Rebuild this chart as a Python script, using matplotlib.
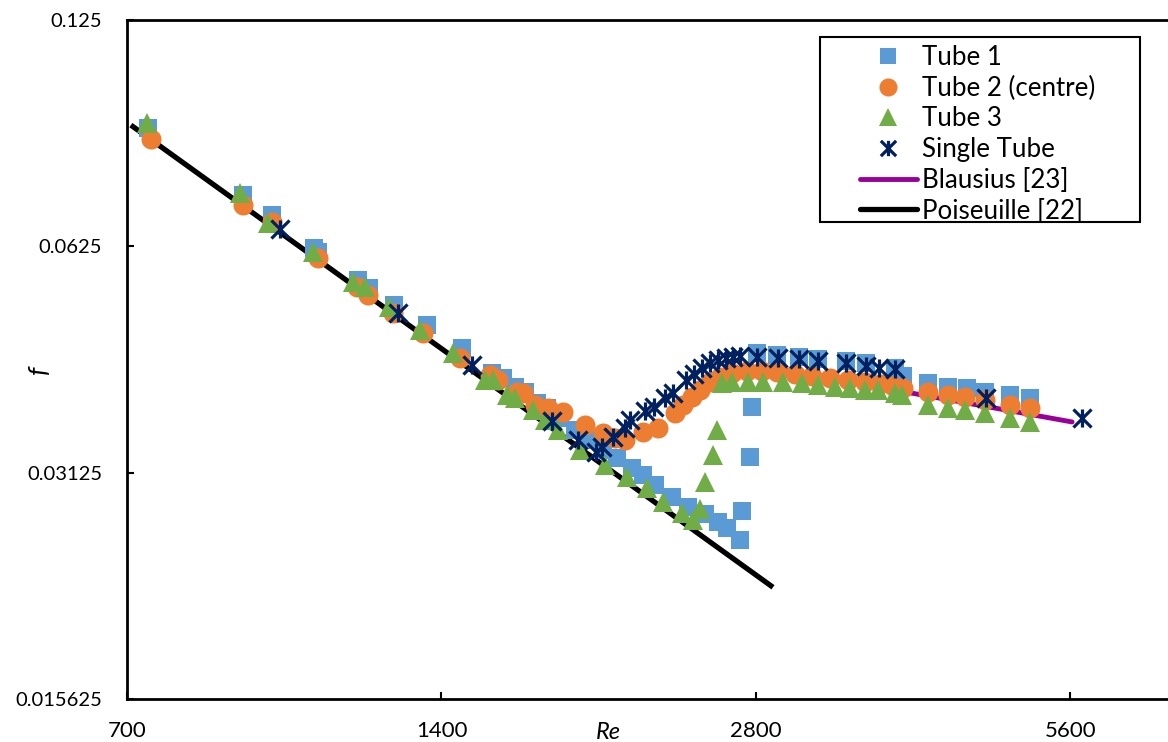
import matplotlib
matplotlib.use("Agg")
import matplotlib.pyplot as plt
from matplotlib.lines import Line2D
from matplotlib.patches import Rectangle
from matplotlib.path import Path

plt.rcParams["font.family"] = ["Lato", "DejaVu Sans"]

# ---- data ----
tube1_re = [733, 904, 964, 1057, 1066, 1165, 1193, 1261, 1356, 1465, 1565, 1603,
            1646, 1683, 1728, 1767, 1818, 1879, 1942, 1999, 2061, 2130, 2183, 2241,
            2327, 2410, 2502, 2575, 2627, 2703, 2715, 2763, 2775,
            2806, 2933, 3078, 3210, 3414, 3568, 3804, 3871, 4091, 4275, 4458, 4638,
            4901, 5122]
tube1_f = [0.0898, 0.0731, 0.0688, 0.0622, 0.0614, 0.0564, 0.0550, 0.0522, 0.0491,
           0.0458, 0.0424, 0.0418, 0.0406, 0.0400, 0.0387, 0.0381, 0.0369, 0.0356,
           0.0345, 0.0335, 0.0327, 0.0317, 0.0310, 0.0301, 0.0290, 0.0281, 0.0275,
           0.0269, 0.0264, 0.0254, 0.0278, 0.0328, 0.0382,
           0.0451, 0.0448, 0.0445, 0.0443, 0.0440, 0.0437, 0.0431, 0.0420, 0.0411,
           0.0406, 0.0405, 0.0400, 0.0396, 0.0393]

tube2_re = [738, 904, 964, 1066, 1162, 1191, 1258, 1344, 1458, 1558, 1586, 1654,
            1676, 1720, 1770, 1830, 1921, 1999, 2052, 2098, 2183, 2256, 2342, 2384,
            2432, 2475, 2530, 2586, 2656, 2745, 2837, 2933, 3051, 3168, 3296, 3430,
            3560, 3680, 3787, 3871, 4091, 4275, 4438, 4638, 4901, 5122]
tube2_f = [0.0868, 0.0709, 0.0673, 0.0603, 0.0552, 0.0538, 0.0510, 0.0479, 0.0444,
           0.0421, 0.0415, 0.0400, 0.0399, 0.0384, 0.0381, 0.0376, 0.0362, 0.0353,
           0.0347, 0.0345, 0.0354, 0.0358, 0.0375, 0.0384, 0.0394, 0.0403, 0.0413,
           0.0419, 0.0424, 0.0427, 0.0427, 0.0425, 0.0423, 0.0420, 0.0418, 0.0415,
           0.0413, 0.0410, 0.0407, 0.0405, 0.0400, 0.0396, 0.0394, 0.0390, 0.0384,
           0.0381]

tube3_re = [732, 898, 955, 1055, 1152, 1183, 1247, 1335, 1436, 1541, 1568, 1617,
            1646, 1713, 1759, 1810, 1900, 2007, 2107, 2202, 2281, 2379, 2437, 2475,
            2502, 2547, 2569, 2598, 2656, 2751, 2844, 2972, 3099, 3210, 3333, 3445,
            3560, 3664, 3804, 3863, 4091, 4275, 4438, 4638, 4901, 5122]
tube3_f = [0.0912, 0.0736, 0.0671, 0.0614, 0.0560, 0.0552, 0.0519, 0.0484, 0.0451,
           0.0415, 0.0415, 0.0396, 0.0393, 0.0379, 0.0367, 0.0356, 0.0335, 0.0320,
           0.0308, 0.0298, 0.0286, 0.0276, 0.0270, 0.0280, 0.0304, 0.0330, 0.0356,
           0.0411, 0.0413, 0.0413, 0.0413, 0.0413, 0.0411, 0.0409, 0.0406, 0.0405,
           0.0403, 0.0403, 0.0399, 0.0396, 0.0384, 0.0381, 0.0379, 0.0375, 0.0369,
           0.0365]

single_re = [981, 1272, 1497, 1786, 1891, 1968, 1994, 2043, 2098, 2121, 2192, 2236,
             2291, 2332, 2400, 2442, 2486, 2530, 2575, 2621, 2662, 2703, 2806, 2939,
             3078, 3210, 3414, 3568, 3672, 3804, 4649, 5744]
single_f = [0.0659, 0.0510, 0.0435, 0.0366, 0.0345, 0.0333, 0.0338, 0.0349, 0.0358,
            0.0367, 0.0377, 0.0382, 0.0393, 0.0399, 0.0415, 0.0423, 0.0431, 0.0437,
            0.0441, 0.0444, 0.0445, 0.0447, 0.0445, 0.0444, 0.0443, 0.0440, 0.0437,
            0.0433, 0.0431, 0.0429, 0.0393, 0.0369]

blasius_re = [3000, 5620]
blasius_f = [0.0427, 0.0365]
poiseuille_re = [706, 2907]
poiseuille_f = [0.0906, 0.0220]

x_ticks = [700, 1400, 2800, 5600]
x_tick_labels = ["700", "1400", "2800", "5600"]
y_ticks = [0.015625, 0.03125, 0.0625, 0.125]
y_tick_labels = ["0.015625", "0.03125", "0.0625", "0.125"]

labels = ["Tube 1", "Tube 2 (centre)", "Tube 3", "Single Tube",
          "Blausius [23]", "Poiseuille [22]"]

# ---- style ----
c_t1 = "#5b9bd5"
c_t2 = "#ed7d31"
c_t3 = "#70ad47"
c_single = "#002060"
c_blasius = "#990099"

star = Path([(-1, -1), (1, 1), (-1, 1), (1, -1), (0, -1), (0, 1)],
            [Path.MOVETO, Path.LINETO, Path.MOVETO, Path.LINETO,
             Path.MOVETO, Path.LINETO])

fig = plt.figure(figsize=(11.68, 7.42), dpi=100)
ax = fig.add_axes([127 / 1168, 1 - 699 / 742, 1 - 127 / 1168, 679 / 742])

ax.set_xscale("log", base=2)
ax.set_yscale("log", base=2)

ax.plot(poiseuille_re, poiseuille_f, color="black", lw=3.8,
        solid_capstyle="butt", zorder=1)
ax.plot(blasius_re, blasius_f, color=c_blasius, lw=3.5,
        solid_capstyle="round", zorder=1)

ax.plot(tube1_re, tube1_f, ls="none", marker="s", ms=13, mew=0,
        color=c_t1, zorder=2)
ax.plot(tube2_re, tube2_f, ls="none", marker="o", ms=14.4, mew=0,
        color=c_t2, zorder=3)
ax.plot(tube3_re, tube3_f, ls="none", marker="^", ms=14.4, mew=0,
        color=c_t3, zorder=4)
ax.plot(single_re, single_f, ls="none", marker=star, ms=13, mew=2.3,
        markeredgecolor=c_single, markerfacecolor="none", zorder=5)

ax.set_xlim(700, 6943)
ax.set_ylim(0.015625, 0.125)
ax.minorticks_off()
ax.set_xticks(x_ticks)
ax.set_xticklabels(x_tick_labels)
ax.set_yticks(y_ticks)
ax.set_yticklabels(y_tick_labels)
ax.minorticks_off()

ax.tick_params(axis="x", direction="in", length=5, width=1.5,
               pad=16, labelsize=16, colors="black")
ax.tick_params(axis="y", direction="in", length=5, width=1.5,
               pad=18, labelsize=14.5, colors="black")

for side in ["left", "bottom", "top"]:
    ax.spines[side].set_linewidth(2)
    ax.spines[side].set_color("black")
ax.spines["right"].set_visible(False)

ax.set_xlabel("Re", fontstyle="italic", fontsize=17)
ax.xaxis.set_label_coords(0.462, -0.034)
ax.set_ylabel("f", fontstyle="italic", fontsize=19)
ax.yaxis.set_label_coords(-0.074, 0.4845)

handles = [
    Line2D([], [], ls="none", marker="s", ms=12, mew=0, color=c_t1),
    Line2D([], [], ls="none", marker="o", ms=13, mew=0, color=c_t2),
    Line2D([], [], ls="none", marker="^", ms=13, mew=0, color=c_t3),
    Line2D([], [], ls="none", marker=star, ms=11, mew=2.3,
           markeredgecolor=c_single, markerfacecolor="none"),
    Line2D([], [], color=c_blasius, lw=3.5, solid_capstyle="round"),
    Line2D([], [], color="black", lw=3.8, solid_capstyle="round"),
]
fig.legend(handles, labels, loc="upper left",
           bbox_to_anchor=(860 / 1168, 1 - 45 / 742),
           frameon=False, fontsize=18.6, borderpad=0, borderaxespad=0,
           labelspacing=0.22, handlelength=2.2, handletextpad=0.2)

fig.add_artist(Rectangle((820 / 1168, 1 - 222 / 742), 320 / 1168, 185 / 742,
                         transform=fig.transFigure, facecolor="none",
                         edgecolor="black", linewidth=1.5))

fig.savefig("out.png", dpi=100)
